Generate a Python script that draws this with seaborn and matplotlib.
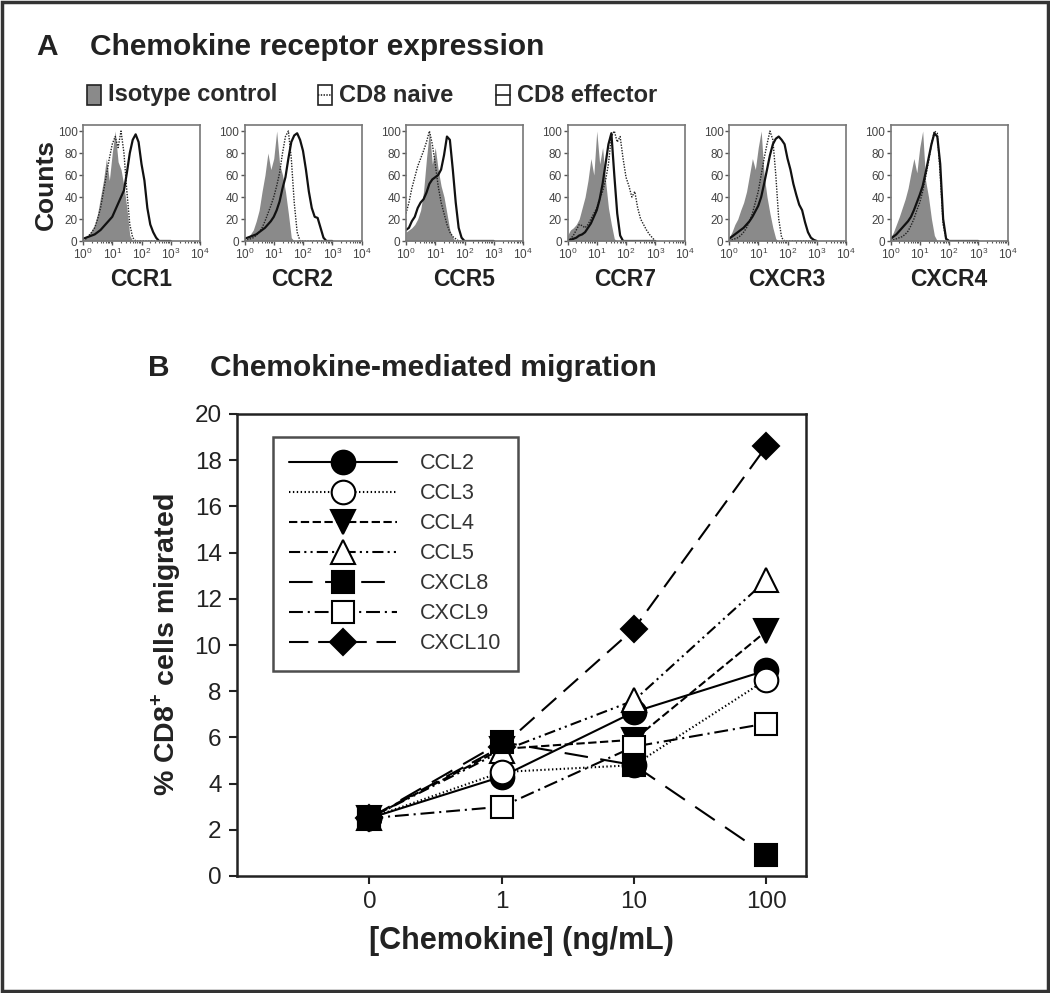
import numpy as np
import matplotlib
matplotlib.use('Agg')
import matplotlib.pyplot as plt
import seaborn as sns
from matplotlib.patches import Rectangle
from matplotlib.lines import Line2D

sns.set_style('white')
plt.rcParams['font.family'] = ['Liberation Sans', 'DejaVu Sans']
plt.rcParams['mathtext.fontset'] = 'custom'
plt.rcParams['mathtext.rm'] = 'Liberation Sans'
plt.rcParams['mathtext.bf'] = 'Liberation Sans:bold'
plt.rcParams['lines.scale_dashes'] = False

# ---- Panel A: flow histograms (log10 fluorescence grid, % of max counts) ----
log_fl = [0.0, 0.1, 0.2, 0.3, 0.4, 0.5, 0.6, 0.7, 0.8, 0.9, 1.0,
          1.1, 1.2, 1.3, 1.4, 1.5, 1.6, 1.7, 1.8, 1.9, 2.0,
          2.1, 2.2, 2.3, 2.4, 2.5, 2.6, 2.7, 2.8, 2.9, 3.0]
receptors = ['CCR1', 'CCR2', 'CCR5', 'CCR7', 'CXCR3', 'CXCR4']

ccr1_iso = [0, 3, 6, 10, 15, 25, 40, 55, 75, 55, 80, 100, 72, 65, 50, 30, 5, 0, 0, 0, 0, 0, 0, 0, 0, 0, 0, 0, 0, 0, 0]
ccr1_naive = [0, 2, 5, 8, 12, 20, 30, 45, 60, 75, 88, 95, 85, 100, 80, 45, 15, 3, 0, 0, 0, 0, 0, 0, 0, 0, 0, 0, 0, 0, 0]
ccr1_eff = [2, 3, 4, 5, 6, 8, 10, 13, 16, 19, 22, 28, 34, 40, 46, 62, 80, 92, 97, 90, 70, 55, 30, 15, 8, 3, 0, 0, 0, 0, 0]

ccr2_iso = [0, 3, 6, 10, 18, 28, 45, 60, 80, 65, 75, 100, 70, 60, 45, 25, 3, 0, 0, 0, 0, 0, 0, 0, 0, 0, 0, 0, 0, 0, 0]
ccr2_naive = [0, 1, 2, 3, 5, 8, 12, 18, 25, 32, 40, 50, 62, 80, 95, 100, 75, 35, 8, 0, 0, 0, 0, 0, 0, 0, 0, 0, 0, 0, 0]
ccr2_eff = [2, 3, 4, 5, 6, 8, 10, 12, 15, 18, 22, 28, 36, 48, 58, 75, 90, 96, 98, 92, 82, 65, 45, 30, 22, 21, 12, 3, 0, 0, 0]

ccr5_iso = [8, 10, 12, 15, 20, 28, 45, 75, 100, 70, 85, 65, 50, 40, 25, 10, 3, 0, 0, 0, 0, 0, 0, 0, 0, 0, 0, 0, 0, 0, 0]
ccr5_naive = [25, 35, 48, 58, 68, 75, 82, 90, 100, 88, 70, 50, 35, 25, 15, 8, 4, 2, 0, 0, 0, 0, 0, 0, 0, 0, 0, 0, 0, 0, 0]
ccr5_eff = [10, 12, 18, 22, 30, 35, 38, 44, 52, 56, 58, 60, 65, 78, 95, 92, 65, 35, 12, 3, 0, 0, 0, 0, 0, 0, 0, 0, 0, 0, 0]

ccr7_iso = [5, 10, 12, 15, 20, 30, 40, 55, 75, 60, 100, 70, 85, 55, 30, 15, 2, 0, 0, 0, 0, 0, 0, 0, 0, 0, 0, 0, 0, 0, 0]
ccr7_naive = [0, 2, 5, 10, 15, 14, 12, 15, 20, 25, 30, 38, 45, 55, 70, 95, 100, 90, 95, 75, 58, 50, 40, 45, 30, 20, 15, 10, 6, 3, 0]
ccr7_eff = [0, 1, 2, 3, 5, 6, 8, 12, 16, 22, 28, 38, 52, 70, 88, 98, 60, 25, 5, 0, 0, 0, 0, 0, 0, 0, 0, 0, 0, 0, 0]

cxcr3_iso = [3, 8, 15, 20, 28, 35, 45, 60, 75, 65, 85, 100, 60, 40, 25, 12, 2, 0, 0, 0, 0, 0, 0, 0, 0, 0, 0, 0, 0, 0, 0]
cxcr3_naive = [0, 1, 2, 3, 5, 8, 12, 18, 25, 35, 45, 60, 75, 88, 100, 92, 60, 20, 3, 0, 0, 0, 0, 0, 0, 0, 0, 0, 0, 0, 0]
cxcr3_eff = [2, 4, 6, 8, 10, 12, 15, 18, 22, 27, 32, 40, 52, 65, 78, 88, 93, 95, 92, 88, 75, 65, 52, 42, 33, 28, 17, 8, 3, 1, 0]

cxcr4_iso = [3, 8, 15, 22, 30, 38, 48, 62, 75, 62, 85, 100, 55, 40, 20, 5, 0, 0, 0, 0, 0, 0, 0, 0, 0, 0, 0, 0, 0, 0, 0]
cxcr4_naive = [0, 1, 2, 3, 4, 6, 9, 14, 20, 28, 35, 45, 58, 72, 88, 100, 98, 60, 15, 2, 0, 0, 0, 0, 0, 0, 0, 0, 0, 0, 0]
cxcr4_eff = [2, 4, 6, 9, 12, 15, 18, 22, 28, 35, 42, 50, 62, 75, 88, 98, 95, 70, 20, 2, 0, 0, 0, 0, 0, 0, 0, 0, 0, 0, 0]

iso_counts = [ccr1_iso, ccr2_iso, ccr5_iso, ccr7_iso, cxcr3_iso, cxcr4_iso]
naive_counts = [ccr1_naive, ccr2_naive, ccr5_naive, ccr7_naive, cxcr3_naive, cxcr4_naive]
eff_counts = [ccr1_eff, ccr2_eff, ccr5_eff, ccr7_eff, cxcr3_eff, cxcr4_eff]

# ---- Panel B: migration ----
doses = ['0', '1', '10', '100']
ccl2 = [2.5, 4.3, 7.1, 8.9]
ccl3 = [2.5, 4.5, 4.8, 8.5]
ccl4 = [2.5, 5.5, 5.9, 10.6]
ccl5 = [2.5, 5.4, 7.6, 12.8]
cxcl8 = [2.5, 5.8, 4.8, 0.9]
cxcl9 = [2.5, 3.0, 5.6, 6.6]
cxcl10 = [2.5, 5.6, 10.7, 18.6]

W, H = 1050, 993
fig = plt.figure(figsize=(W / 100, H / 100), dpi=100)


def fx(px):
    return px / W


def fy(py):
    return 1 - py / H


# outer frame
fig.patches.append(Rectangle((0.002, 0.002), 0.996, 0.996, transform=fig.transFigure,
                             fill=False, edgecolor='#333333', lw=2.5))

# Panel A header
fig.text(fx(36), fy(47), 'A', fontsize=21.5, fontweight='bold', va='center', color='#222222')
fig.text(fx(90), fy(47), 'Chemokine receptor expression', fontsize=21.5, fontweight='bold',
         va='center', color='#222222')

# Panel A legend
fig.patches.append(Rectangle((fx(87), fy(105)), fx(14), 20 / H, transform=fig.transFigure,
                             facecolor='#8a8a8a', edgecolor='#222222', lw=1.2))
fig.text(fx(108), fy(95), 'Isotype control', fontsize=17, fontweight='bold', va='center',
         color='#2a2a2a')
for bx, ls, label in [(318, (0, (1, 1)), 'CD8 naive'), (496, '-', 'CD8 effector')]:
    fig.patches.append(Rectangle((fx(bx), fy(105)), fx(14), 20 / H, transform=fig.transFigure,
                                 facecolor='white', edgecolor='#222222', lw=1.2))
    fig.lines.append(Line2D([fx(bx), fx(bx + 14)], [fy(95), fy(95)], transform=fig.transFigure,
                            color='#222222', lw=1.2, linestyle=ls))
    fig.text(fx(bx + 21), fy(95), label, fontsize=17, fontweight='bold', va='center',
             color='#2a2a2a')

minor_pos = [d + np.log10(k) for d in range(4) for k in range(2, 10)]
for i, rec in enumerate(receptors):
    left = 83 + 161.5 * i
    ax = fig.add_axes([fx(left), fy(241), fx(117), 116 / H])
    ax.fill_between(log_fl, iso_counts[i], color='#8a8a8a', lw=0)
    sns.lineplot(x=log_fl, y=naive_counts[i], ax=ax, color='#222222', lw=1.0,
                 linestyle=(0, (1, 1)), errorbar=None)
    sns.lineplot(x=log_fl, y=eff_counts[i], ax=ax, color='#111111', lw=1.6, errorbar=None)
    ax.set_xlim(0, 4)
    ax.set_ylim(0, 105.5)
    ax.set_xticks([0, 1, 2, 3, 4])
    ax.set_xticklabels([r'$10^{%d}$' % d for d in range(5)])
    ax.set_xticks(minor_pos, minor=True)
    ax.set_yticks([0, 20, 40, 60, 80, 100])
    ax.set_yticklabels(['0', '20', '40', '60', '80', '100'])
    ax.tick_params(axis='both', which='major', labelsize=8.5, length=3, width=1,
                   color='#555555', labelcolor='#444444', pad=1, direction='out')
    ax.tick_params(axis='x', which='minor', length=1.5, width=0.8, color='#555555')
    ax.tick_params(bottom=True, left=True, which='both')
    for s in ax.spines.values():
        s.set_color('#777777')
        s.set_linewidth(1.2)
    ax.set_xlabel('')
    ax.set_ylabel('')
    fig.text(fx(left + 58), fy(280), rec, fontsize=16.5, fontweight='bold', ha='center',
             va='center', color='#222222')

fig.text(fx(46), fy(185), 'Counts', fontsize=19, fontweight='bold', rotation=90,
         ha='center', va='center', color='#222222')

# Panel B header
fig.text(fx(148), fy(368), 'B', fontsize=21.5, fontweight='bold', va='center', color='#222222')
fig.text(fx(210), fy(368), 'Chemokine-mediated migration', fontsize=21.5, fontweight='bold',
         va='center', color='#222222')

axb = fig.add_axes([fx(237), fy(876), fx(569), 462 / H])
series = [
    ('CCL2', ccl2, 'o', 'black', '-', 17, 3),
    ('CCL3', ccl3, 'o', 'white', (0, (1, 1.8)), 17, 3.5),
    ('CCL4', ccl4, 'v', 'black', (0, (6, 2.5)), 17, 3),
    ('CCL5', ccl5, '^', 'white', (0, (8, 3, 1.5, 3, 1.5, 3)), 17, 3),
    ('CXCL8', cxcl8, 's', 'black', (0, (17, 9)), 15.5, 5),
    ('CXCL9', cxcl9, 's', 'white', (0, (10, 3.5, 1.5, 3.5)), 15.5, 4),
    ('CXCL10', cxcl10, 'D', 'black', (0, (14, 7)), 13.5, 2),
]
for name, vals, mk, fc, ls, ms, z in series:
    sns.lineplot(x=doses, y=vals, ax=axb, marker=mk, markersize=ms, markerfacecolor=fc,
                 markeredgecolor='black', markeredgewidth=1.5, color='black', lw=1.5,
                 linestyle=ls, label=name, errorbar=None, zorder=z)

axb.set_xlim(-1, 3.3)
axb.set_ylim(0, 20)
axb.set_yticks(range(0, 21, 2))
axb.tick_params(axis='both', labelsize=17.5, length=6, width=1.5, color='#222222',
                labelcolor='#222222', direction='out', bottom=True, left=True, pad=5)
for s in axb.spines.values():
    s.set_color('#222222')
    s.set_linewidth(1.8)
axb.set_xlabel('[Chemokine] (ng/mL)', fontsize=22, fontweight='bold', color='#222222',
               labelpad=9)
axb.set_ylabel(r'% CD8$^{\mathbf{+}}$ cells migrated', fontsize=20.5, fontweight='bold',
               color='#222222', labelpad=8)

handles, labels = axb.get_legend_handles_labels()
leg = axb.legend(handles, labels, loc='upper left', bbox_to_anchor=(0.063, 0.95),
                 borderaxespad=0, fontsize=15.5, handlelength=5.0, handletextpad=1.1,
                 labelspacing=0.42, borderpad=0.75, frameon=True, fancybox=False,
                 edgecolor='#222222')
leg.get_frame().set_linewidth(1.8)
for t in leg.get_texts():
    t.set_color('#333333')
leg.set_zorder(10)

fig.savefig('out.png', dpi=100, facecolor='white')
